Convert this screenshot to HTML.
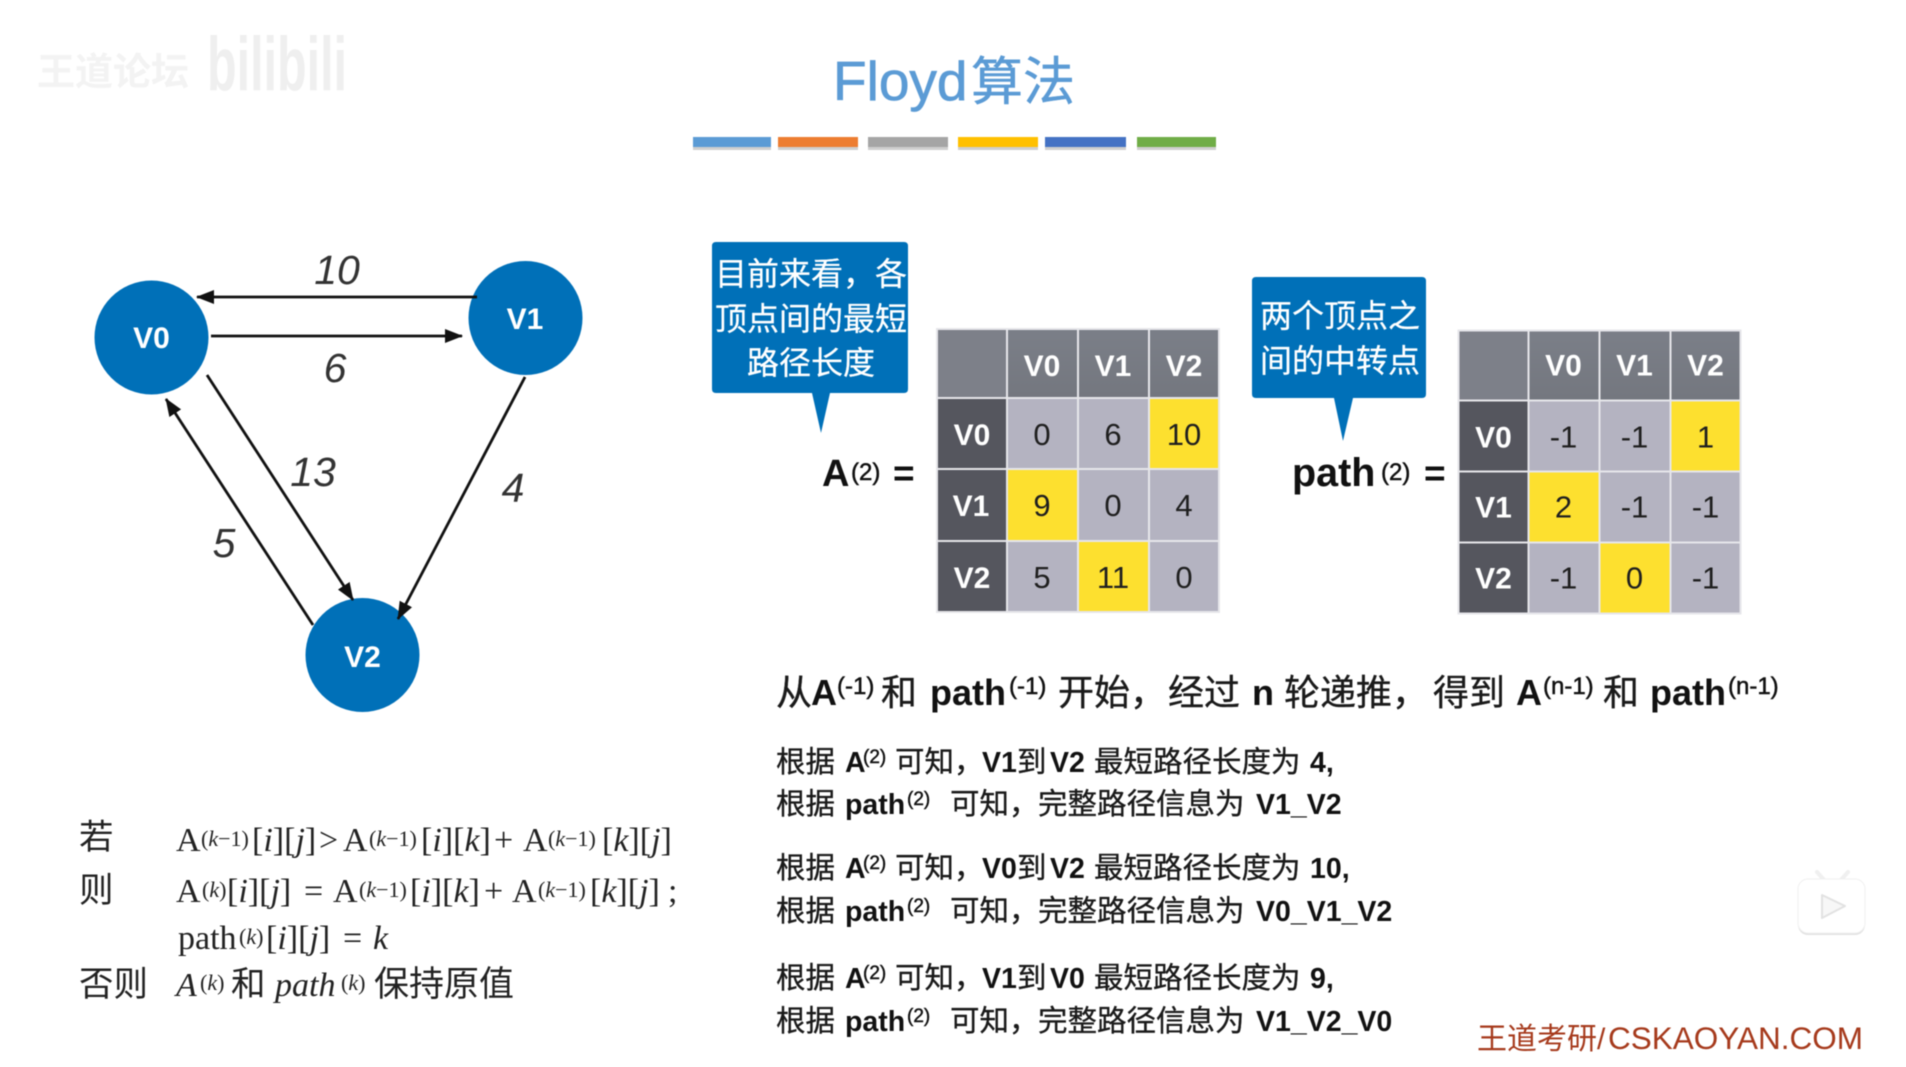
<!DOCTYPE html>
<html lang="zh">
<head>
<meta charset="utf-8">
<title>Floyd算法</title>
<style>
html,body{margin:0;padding:0;background:#fff;width:1906px;height:1067px;overflow:hidden}
svg{display:block;filter:blur(.55px)}
text{white-space:pre}
.s{font-family:"Liberation Sans","Noto Sans CJK SC",sans-serif}
.c{font-family:"Liberation Sans","Noto Sans CJK SC",sans-serif;fill:#1a1a1a;stroke:#1a1a1a;stroke-width:.35px}
.b{font-family:"Liberation Sans","Noto Sans CJK SC",sans-serif;font-weight:700;fill:#111}
.h{font-size:36px}
.hs{font-size:24px;font-weight:400;stroke:#111;stroke-width:.5px}
.t{font-size:29.5px}
.b.t{font-size:28.500px}
.ts{font-size:19px;font-weight:400;stroke:#111;stroke-width:.45px}
.w{fill:#fff;font-family:"Liberation Sans",sans-serif;font-weight:700;font-size:30px;text-anchor:middle}
.n{fill:#1f1f1f;font-family:"Liberation Sans",sans-serif;font-size:31px;text-anchor:middle}
.e{fill:#333;font-family:"Liberation Sans",sans-serif;font-style:italic;font-size:41px;text-anchor:middle}
.cn{fill:#fff;font-family:"Liberation Sans","Noto Sans CJK SC",sans-serif;font-size:32px;text-anchor:middle;stroke:#fff;stroke-width:.25px}
.f{font-family:"Liberation Serif","Noto Serif CJK SC",serif;font-size:34px;fill:#222}
.fs{font-family:"Liberation Serif",serif;font-size:22px;fill:#222}
.i{font-style:italic}
.z{font-family:"Liberation Sans","Noto Sans CJK SC",sans-serif;font-size:34.500px;fill:#222}
</style>
</head>
<body>
<svg width="1906" height="1067" viewBox="0 0 1906 1067" xmlns="http://www.w3.org/2000/svg">
<defs>
<marker id="ar" markerUnits="userSpaceOnUse" markerWidth="20" markerHeight="16" refX="17" refY="7" orient="auto">
<path d="M0 0L18 7L0 14z" fill="#111"/>
</marker>
<linearGradient id="hd" x1="0" y1="0" x2="0" y2="1"><stop offset="0" stop-color="#7b7f88"/><stop offset="1" stop-color="#74777f"/></linearGradient>
</defs>
<rect width="1906" height="1067" fill="#fff"/>

<!-- watermark -->
<text x="37" y="85" font-size="38" fill="#f3f3f3" class="s" font-weight="700">王道论坛</text>
<text x="207" y="90" font-size="76" font-weight="700" fill="#efefef" textLength="140" lengthAdjust="spacingAndGlyphs" class="s">bilibili</text>

<!-- title -->
<text x="833" y="100" font-size="55" fill="#5b9bd5" stroke="#5b9bd5" stroke-width=".7" class="s">Floyd</text>
<text x="971" y="100" font-size="52" fill="#5b9bd5" stroke="#5b9bd5" stroke-width=".5" class="s">算法</text>

<!-- bars -->
<g fill="#bbb" opacity=".7">
<rect x="693" y="141" width="78" height="9"/><rect x="778" y="141" width="80" height="9"/><rect x="868" y="141" width="80" height="9"/><rect x="958" y="141" width="80" height="9"/><rect x="1045" y="141" width="81" height="9"/><rect x="1137" y="141" width="79" height="9"/>
</g>
<rect x="693" y="137" width="78" height="10" fill="#5b9bd5"/>
<rect x="778" y="137" width="80" height="10" fill="#ed7d31"/>
<rect x="868" y="137" width="80" height="10" fill="#a5a5a5"/>
<rect x="958" y="137" width="80" height="10" fill="#ffc000"/>
<rect x="1045" y="137" width="81" height="10" fill="#4472c4"/>
<rect x="1137" y="137" width="79" height="10" fill="#70ad47"/>

<!-- graph -->
<circle cx="151.500" cy="337.500" r="57" fill="#0070b8"/>
<circle cx="525.500" cy="318" r="57" fill="#0070b8"/>
<circle cx="362.500" cy="655" r="57" fill="#0070b8"/>
<text class="w" x="151.500" y="348">V0</text>
<text class="w" x="525" y="329">V1</text>
<text class="w" x="362.500" y="667" >V2</text>
<g stroke="#111" stroke-width="2.800" fill="none">
<line x1="477" y1="297" x2="197" y2="297" marker-end="url(#ar)"/>
<line x1="211" y1="336" x2="462" y2="336" marker-end="url(#ar)"/>
<line x1="207" y1="375" x2="353" y2="600" marker-end="url(#ar)"/>
<line x1="313" y1="625" x2="166" y2="399" marker-end="url(#ar)"/>
<line x1="525" y1="377" x2="398" y2="619" marker-end="url(#ar)"/>
</g>
<text class="e" x="337" y="284">10</text>
<text class="e" x="335" y="382">6</text>
<text class="e" x="313" y="486">13</text>
<text class="e" x="513" y="502">4</text>
<text class="e" x="224" y="557">5</text>

<!-- callout 1 -->
<path d="M716 242H904Q908 242 908 246V389Q908 393 904 393H830L821 433L812 393H716Q712 393 712 389V246Q712 242 716 242z" fill="#0070b8"/>
<text class="cn" x="811" y="285">目前来看，各</text>
<text class="cn" x="811" y="330">顶点间的最短</text>
<text class="cn" x="811" y="374">路径长度</text>

<!-- A= -->
<text class="b" x="822" y="486" font-size="38">A</text>
<text class="b" x="851" y="480" font-size="24" style="font-weight:400;stroke:#111;stroke-width:.5px">(2)</text>
<text class="b" x="893" y="486" font-size="37">=</text>

<!-- table A -->
<g transform="translate(0,-1)">
<g stroke="#e6e6ea" stroke-width="2">
<rect x="937" y="330" width="70" height="69" fill="#7d8089"/>
<rect x="1007" y="330" width="71" height="69" fill="url(#hd)"/>
<rect x="1078" y="330" width="71" height="69" fill="url(#hd)"/>
<rect x="1149" y="330" width="70" height="69" fill="url(#hd)"/>
<rect x="937" y="399" width="70" height="71" fill="#55565e"/>
<rect x="937" y="470" width="70" height="72" fill="#55565e"/>
<rect x="937" y="542" width="70" height="71" fill="#55565e"/>
<rect x="1007" y="399" width="71" height="71" fill="#b4b3c1"/>
<rect x="1078" y="399" width="71" height="71" fill="#b4b3c1"/>
<rect x="1149" y="399" width="70" height="71" fill="#fde02f"/>
<rect x="1007" y="470" width="71" height="72" fill="#fde02f"/>
<rect x="1078" y="470" width="71" height="72" fill="#b4b3c1"/>
<rect x="1149" y="470" width="70" height="72" fill="#b4b3c1"/>
<rect x="1007" y="542" width="71" height="71" fill="#b4b3c1"/>
<rect x="1078" y="542" width="71" height="71" fill="#fde02f"/>
<rect x="1149" y="542" width="70" height="71" fill="#b4b3c1"/>
</g>
<text class="w" x="1042" y="377">V0</text><text class="w" x="1113" y="377">V1</text><text class="w" x="1184" y="377">V2</text>
<text class="w" x="972" y="446">V0</text><text class="w" x="971" y="517">V1</text><text class="w" x="972" y="589">V2</text>
<text class="n" x="1042" y="446">0</text><text class="n" x="1113" y="446">6</text><text class="n" x="1184" y="446">10</text>
<text class="n" x="1042" y="517">9</text><text class="n" x="1113" y="517">0</text><text class="n" x="1184" y="517">4</text>
<text class="n" x="1042" y="589">5</text><text class="n" x="1113" y="589">11</text><text class="n" x="1184" y="589">0</text>
</g>

<!-- callout 2 -->
<path d="M1256 277H1422Q1426 277 1426 281V394Q1426 398 1422 398H1353L1343 441L1334 398H1256Q1252 398 1252 394V281Q1252 277 1256 277z" fill="#0070b8"/>
<text class="cn" x="1340" y="327" style="font-size:32px">两个顶点之</text>
<text class="cn" x="1340" y="372" style="font-size:32px">间的中转点</text>

<!-- path= -->
<text class="b" x="1292" y="486" font-size="39.500">path</text>
<text class="b" x="1381" y="480" font-size="24" style="font-weight:400;stroke:#111;stroke-width:.5px">(2)</text>
<text class="b" x="1424" y="486" font-size="37">=</text>

<!-- table path -->
<g transform="translate(-7.500,-1.500)">
<g stroke="#e6e6ea" stroke-width="2">
<rect x="1466" y="332" width="70" height="70" fill="#7d8089"/>
<rect x="1536" y="332" width="71" height="70" fill="url(#hd)"/>
<rect x="1607" y="332" width="71" height="70" fill="url(#hd)"/>
<rect x="1678" y="332" width="70" height="70" fill="url(#hd)"/>
<rect x="1466" y="402" width="70" height="71" fill="#55565e"/>
<rect x="1466" y="473" width="70" height="71" fill="#55565e"/>
<rect x="1466" y="544" width="70" height="71" fill="#55565e"/>
<rect x="1536" y="402" width="71" height="71" fill="#b4b3c1"/>
<rect x="1607" y="402" width="71" height="71" fill="#b4b3c1"/>
<rect x="1678" y="402" width="70" height="71" fill="#fde02f"/>
<rect x="1536" y="473" width="71" height="71" fill="#fde02f"/>
<rect x="1607" y="473" width="71" height="71" fill="#b4b3c1"/>
<rect x="1678" y="473" width="70" height="71" fill="#b4b3c1"/>
<rect x="1536" y="544" width="71" height="71" fill="#b4b3c1"/>
<rect x="1607" y="544" width="71" height="71" fill="#fde02f"/>
<rect x="1678" y="544" width="70" height="71" fill="#b4b3c1"/>
</g>
<text class="w" x="1571" y="377">V0</text><text class="w" x="1642" y="377">V1</text><text class="w" x="1713" y="377">V2</text>
<text class="w" x="1501" y="449">V0</text><text class="w" x="1501" y="519">V1</text><text class="w" x="1501" y="590">V2</text>
<text class="n" x="1571" y="449">-1</text><text class="n" x="1642" y="449">-1</text><text class="n" x="1713" y="449">1</text>
<text class="n" x="1571" y="519">2</text><text class="n" x="1642" y="519">-1</text><text class="n" x="1713" y="519">-1</text>
<text class="n" x="1571" y="590">-1</text><text class="n" x="1642" y="590">0</text><text class="n" x="1713" y="590">-1</text>
</g>

<!-- heading line -->
<g>
<text class="c h" x="776" y="705">从</text><text class="b h" x="811" y="705">A</text><text class="b hs" x="837" y="694">(-1)</text>
<text class="c h" x="881" y="705">和</text><text class="b h" x="930" y="705">path</text><text class="b hs" x="1009" y="694">(-1)</text>
<text class="c h" x="1058" y="705">开始，</text><text class="c h" x="1168" y="705">经过</text><text class="b h" x="1252" y="705">n</text>
<text class="c h" x="1284" y="705">轮递推，</text><text class="c h" x="1433" y="705">得到</text><text class="b h" x="1516" y="705">A</text>
<text class="b hs" x="1543" y="694">(n-1)</text><text class="c h" x="1603" y="705">和</text><text class="b h" x="1650" y="705">path</text><text class="b hs" x="1728" y="694">(n-1)</text>
</g>

<!-- body -->
<g>
<text class="c t" x="776" y="772">根据</text><text class="b t" x="845" y="772">A</text><text class="b ts" x="863" y="763">(2)</text><text class="c t" x="895" y="772">可知，</text><text class="b t" x="982" y="772">V1</text><text class="c t" x="1017" y="772">到</text><text class="b t" x="1050" y="772">V2</text><text class="c t" x="1094" y="772">最短路径长度为</text><text class="b t" x="1310" y="772">4,</text>

<text class="c t" x="776" y="814">根据</text><text class="b t" x="845" y="814">path</text><text class="b ts" x="907" y="805">(2)</text><text class="c t" x="950" y="814">可知，</text><text class="c t" x="1038" y="814">完整路径信息为</text><text class="b t" x="1256" y="814">V1_V2</text>

<text class="c t" x="776" y="878">根据</text><text class="b t" x="845" y="878">A</text><text class="b ts" x="863" y="869">(2)</text><text class="c t" x="895" y="878">可知，</text><text class="b t" x="982" y="878">V0</text><text class="c t" x="1017" y="878">到</text><text class="b t" x="1050" y="878">V2</text><text class="c t" x="1094" y="878">最短路径长度为</text><text class="b t" x="1310" y="878">10,</text>

<text class="c t" x="776" y="921">根据</text><text class="b t" x="845" y="921">path</text><text class="b ts" x="907" y="912">(2)</text><text class="c t" x="950" y="921">可知，</text><text class="c t" x="1038" y="921">完整路径信息为</text><text class="b t" x="1256" y="921">V0_V1_V2</text>

<text class="c t" x="776" y="988">根据</text><text class="b t" x="845" y="988">A</text><text class="b ts" x="863" y="979">(2)</text><text class="c t" x="895" y="988">可知，</text><text class="b t" x="982" y="988">V1</text><text class="c t" x="1017" y="988">到</text><text class="b t" x="1050" y="988">V0</text><text class="c t" x="1094" y="988">最短路径长度为</text><text class="b t" x="1310" y="988">9,</text>

<text class="c t" x="776" y="1031">根据</text><text class="b t" x="845" y="1031">path</text><text class="b ts" x="907" y="1022">(2)</text><text class="c t" x="950" y="1031">可知，</text><text class="c t" x="1038" y="1031">完整路径信息为</text><text class="b t" x="1256" y="1031">V1_V2_V0</text>
</g>

<!-- formula -->
<text class="z" x="79" y="849">若</text>
<text class="z" x="79" y="902">则</text>
<text class="z" x="79" y="996">否则</text>

<text class="f" x="176" y="851">A</text><text class="fs" x="201" y="846">(<tspan class="i">k</tspan>−1)</text><text class="f" x="252" y="851">[<tspan class="i">i</tspan>][<tspan class="i">j</tspan>]</text><text class="f" x="319" y="851">&gt;</text><text class="f" x="343" y="851">A</text><text class="fs" x="369" y="846">(<tspan class="i">k</tspan>−1)</text><text class="f" x="421" y="851">[<tspan class="i">i</tspan>][<tspan class="i">k</tspan>]</text><text class="f" x="494" y="851">+</text><text class="f" x="523" y="851">A</text><text class="fs" x="548" y="846">(<tspan class="i">k</tspan>−1)</text><text class="f" x="602" y="851">[<tspan class="i">k</tspan>][<tspan class="i">j</tspan>]</text>

<text class="f" x="176" y="902">A</text><text class="fs" x="202" y="897">(<tspan class="i">k</tspan>)</text><text class="f" x="227" y="902">[<tspan class="i">i</tspan>][<tspan class="i">j</tspan>]</text><text class="f" x="304" y="902">=</text><text class="f" x="333" y="902">A</text><text class="fs" x="359" y="897">(<tspan class="i">k</tspan>−1)</text><text class="f" x="410" y="902">[<tspan class="i">i</tspan>][<tspan class="i">k</tspan>]</text><text class="f" x="484" y="902">+</text><text class="f" x="512" y="902">A</text><text class="fs" x="538" y="897">(<tspan class="i">k</tspan>−1)</text><text class="f" x="590" y="902">[<tspan class="i">k</tspan>][<tspan class="i">j</tspan>]</text><text class="f" x="668" y="902">;</text>

<text class="f" x="178" y="949">path</text><text class="fs" x="239" y="944">(<tspan class="i">k</tspan>)</text><text class="f" x="266" y="949">[<tspan class="i">i</tspan>][<tspan class="i">j</tspan>]</text><text class="f" x="343" y="949">=</text><text class="f i" x="373" y="949">k</text>

<text class="f i" x="176" y="996">A</text><text class="fs" x="200" y="990">(<tspan class="i">k</tspan>)</text><text class="z" x="231" y="996">和</text><text class="f i" x="275" y="996">path</text><text class="fs" x="341" y="990">(<tspan class="i">k</tspan>)</text><text class="z" x="374" y="996" style="font-size:35px">保持原值</text>

<!-- tv icon -->
<g>
<path d="M1817 872L1825 881M1848 872L1840 881" stroke="#f0f0f0" stroke-width="4" stroke-linecap="round"/>
<rect x="1798" y="881" width="67" height="54" rx="10" fill="#e2e2e2"/>
<rect x="1798" y="879" width="67" height="54" rx="10" fill="#fff" stroke="#f0f0f0" stroke-width="1"/>
<path d="M1822 895L1845 906L1822 918z" fill="#f7f7f7" stroke="#e2e2e2" stroke-width="2" stroke-linejoin="round"/>
</g>

<!-- footer -->
<text x="1477" y="1049" font-size="30" fill="#a63a1c" class="s">王道考研/</text>
<text x="1608" y="1049" font-size="31.500" fill="#a63a1c" class="s">CSKAOYAN.COM</text>
</svg>
</body>
</html>
